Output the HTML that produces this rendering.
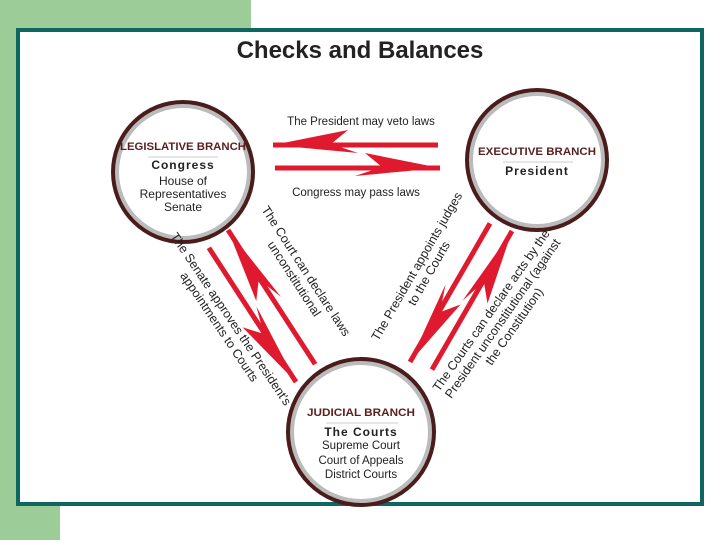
<!DOCTYPE html>
<html><head><style>
body{margin:0;width:720px;height:540px;overflow:hidden;background:#fff;font-family:"Liberation Sans",sans-serif}
</style></head><body>
<svg width="720" height="540" viewBox="0 0 720 540" xmlns="http://www.w3.org/2000/svg" font-family="Liberation Sans, sans-serif">
<rect x="0" y="0" width="251" height="30" fill="#9ccc98"/>
<rect x="0" y="0" width="60" height="540" fill="#9ccc98"/>
<rect x="18" y="30" width="684" height="474" fill="#fff" stroke="#0d6660" stroke-width="4"/>
<text x="360" y="58" text-anchor="middle" font-size="24" font-weight="bold" fill="#222">Checks and Balances</text>
<g fill="#fff" stroke-width="4">
<circle cx="183" cy="172" r="67" stroke="#bbb" stroke-width="6"/>
<circle cx="183" cy="172" r="70" fill="none" stroke="#4a1c1c"/>
<circle cx="537" cy="160" r="67" stroke="#bbb" stroke-width="6"/>
<circle cx="537" cy="160" r="70" fill="none" stroke="#4a1c1c"/>
<circle cx="361" cy="432" r="70" stroke="#bbb" stroke-width="6"/>
<circle cx="361" cy="432" r="73" fill="none" stroke="#4a1c1c"/>
</g>
<g fill="#e01a2e">
<g transform="translate(273,145)"><rect x="0" y="-2.5" width="165" height="5"/><polygon points="0,0 75,-15 58,-1 85,8"/></g>
<g transform="translate(440,168) rotate(180)"><rect x="0" y="-2.5" width="165" height="5"/><polygon points="0,0 75,15 58,1 85,-8"/></g>
<g transform="translate(296,382) rotate(237)"><rect x="0" y="-2.5" width="160" height="5"/><polygon points="0,0 75,-15 58,-1 85,8"/></g>
<g transform="translate(228,230) rotate(57)"><rect x="0" y="-2.5" width="160" height="5"/><polygon points="0,0 75,15 58,1 85,-8"/></g>
<g transform="translate(410,362) rotate(-60)"><rect x="0" y="-2.5" width="160" height="5"/><polygon points="0,0 75,15 58,1 85,-8"/></g>
<g transform="translate(512,231) rotate(120)"><rect x="0" y="-2.5" width="160" height="5"/><polygon points="0,0 75,-15 58,-1 85,8"/></g>
</g>
<g font-size="11.5" fill="#222" text-anchor="middle">
<text x="361" y="125">The President may veto laws</text>
<text x="356" y="196">Congress may pass laws</text>
</g>
<g text-anchor="middle">
<text x="183" y="150" font-size="11" font-weight="bold" fill="#5a1f1f" textLength="126" lengthAdjust="spacingAndGlyphs">LEGISLATIVE BRANCH</text>
<line x1="148" y1="157" x2="218" y2="157" stroke="#ccc"/>
<text x="183" y="169" font-size="12" font-weight="bold" fill="#222" letter-spacing="1">Congress</text>
<text x="183" y="185" font-size="12" fill="#222">House of</text>
<text x="183" y="198" font-size="12" fill="#222">Representatives</text>
<text x="183" y="211" font-size="12" fill="#222">Senate</text>
<text x="537" y="155" font-size="11" font-weight="bold" fill="#5a1f1f" textLength="118" lengthAdjust="spacingAndGlyphs">EXECUTIVE BRANCH</text>
<line x1="503" y1="162" x2="573" y2="162" stroke="#ccc"/>
<text x="537" y="175" font-size="12" font-weight="bold" fill="#222" letter-spacing="1">President</text>
<text x="361" y="416" font-size="11" font-weight="bold" fill="#5a1f1f" textLength="108" lengthAdjust="spacingAndGlyphs">JUDICIAL BRANCH</text>
<line x1="326" y1="423" x2="398" y2="423" stroke="#ccc"/>
<text x="361" y="436" font-size="12" font-weight="bold" fill="#222" letter-spacing="1">The Courts</text>
<text x="361" y="449" font-size="11.5" fill="#222">Supreme Court</text>
<text x="361" y="464" font-size="11.5" fill="#222">Court of Appeals</text>
<text x="361" y="478" font-size="11.5" fill="#222">District Courts</text>
</g>
<g font-size="12.5" fill="#222" text-anchor="middle">
<g transform="translate(300,275) rotate(57)"><text x="0" y="-3">The Court can declare laws</text><text x="0" y="11">unconstitutional</text></g>
<g transform="translate(225,323) rotate(56)"><text x="0" y="-3">The Senate approves the President's</text><text x="0" y="11">appointments to Courts</text></g>
<g transform="translate(423,270) rotate(-60)"><text x="0" y="-3">The President appoints judges</text><text x="0" y="11">to the Courts</text></g>
<g transform="translate(502,318) rotate(-55)"><text x="0" y="-9">The Courts can declare acts by the</text><text x="0" y="5">President unconstitutional (against</text><text x="0" y="19">the Constitution)</text></g>
</g>
</svg>
</body></html>
